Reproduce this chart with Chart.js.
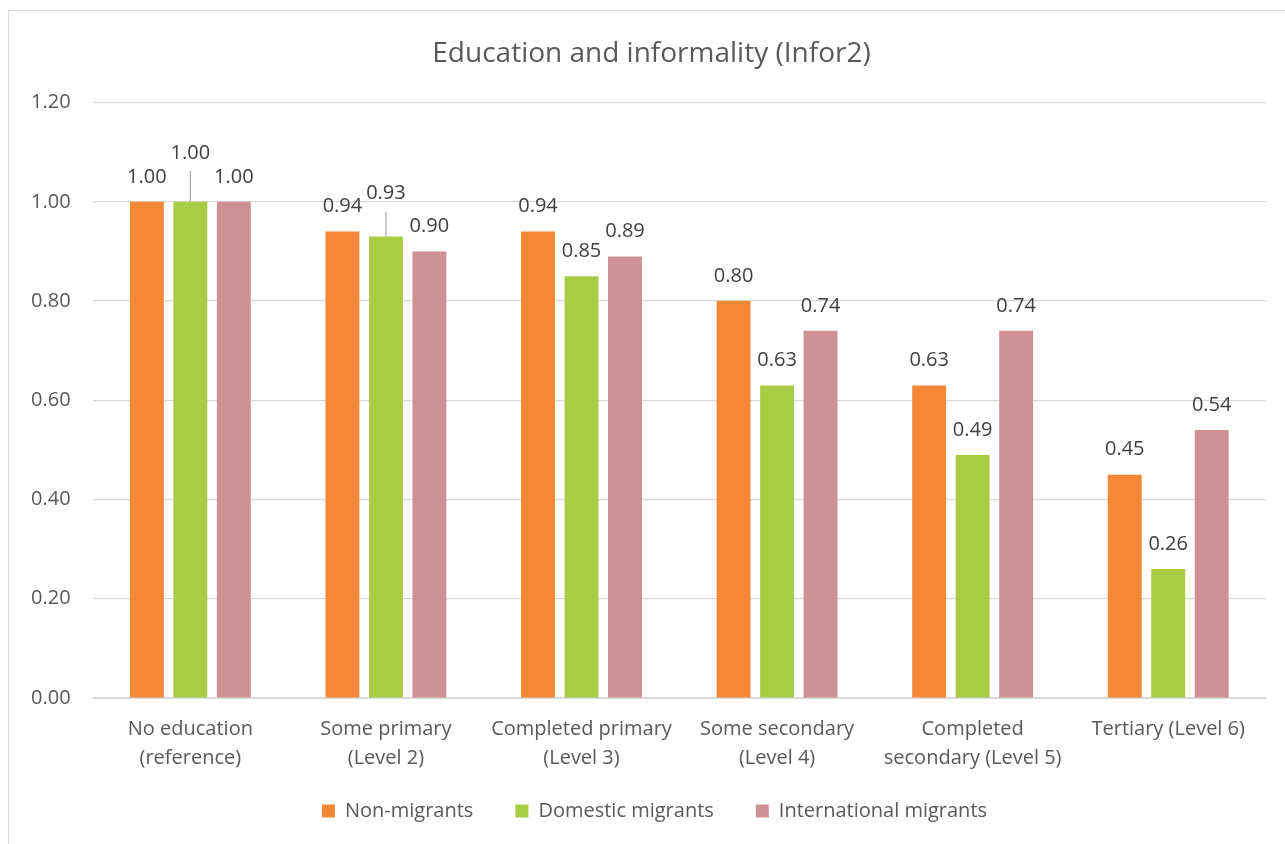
<!DOCTYPE html>
<html>
<head>
<meta charset="utf-8">
<script src="https://cdn.jsdelivr.net/npm/chart.js@4.4.1/dist/chart.umd.min.js"></script>
<style>
  html, body { margin: 0; padding: 0; background: #fff; overflow: hidden; }
  #wrap {
    position: absolute; left: 8px; top: 10px;
    width: 1290px; height: 845px;
    border: 1px solid #d9d9d9; box-sizing: border-box;
  }
  #box { position: absolute; left: 0; top: 0; width: 1277px; height: 834px; }
</style>
</head>
<body>
<div id="wrap"><div id="box"><canvas id="chart"></canvas></div></div>
<script>
const categories = [
  ["No education", "(reference)"],
  ["Some primary", "(Level 2)"],
  ["Completed primary", "(Level 3)"],
  ["Some secondary", "(Level 4)"],
  ["Completed", "secondary (Level 5)"],
  "Tertiary (Level 6)"
];
const nonMigrants = [1.00, 0.94, 0.94, 0.80, 0.63, 0.45];
const domesticMigrants = [1.00, 0.93, 0.85, 0.63, 0.49, 0.26];
const internationalMigrants = [1.00, 0.90, 0.89, 0.74, 0.74, 0.54];
const yTicks = [0, 0.2, 0.4, 0.6, 0.8, 1.0, 1.2];

const FONT = "'Open Sans', 'Liberation Sans', sans-serif";

// value labels above bars; some are pushed up with a leader line
const barLabels = {
  id: "barLabels",
  afterDatasetsDraw(chart, args, opts) {
    const ctx = chart.ctx;
    ctx.save();
    ctx.font = "20px " + FONT;
    ctx.fillStyle = "#404040";
    ctx.textAlign = "center";
    ctx.textBaseline = "middle";
    chart.data.datasets.forEach((ds, di) => {
      const meta = chart.getDatasetMeta(di);
      const lifts = (opts.lift && opts.lift[di]) || [];
      meta.data.forEach((bar, i) => {
        const lift = lifts[i] || 0;
        const y = bar.y - 25 - lift;
        if (lift) {
          ctx.strokeStyle = "#a6a6a6";
          ctx.lineWidth = 1.2;
          ctx.beginPath();
          ctx.moveTo(bar.x, bar.y);
          ctx.lineTo(bar.x, y + 18);
          ctx.stroke();
        }
        ctx.fillText(ds.data[i].toFixed(2), bar.x, y);
      });
    });
    ctx.restore();
  }
};

// legend padding sets the gap between items; give back the extra
// height it adds so the plot area isn't squeezed, then nudge the
// legend row and the title sideways
const boxNudge = {
  id: "boxNudge",
  beforeLayout(chart, args, opts) {
    const lg = chart.legend;
    if (!lg || lg._gapWrapped) return;
    const fit = lg.fit.bind(lg);
    lg.fit = function () { fit(); this.height -= opts.shrink; };
    lg._gapWrapped = true;
  },
  afterLayout(chart, args, opts) {
    const lg = chart.legend;
    lg.top -= opts.raise;
    lg.left += opts.legendX;
    lg.right += opts.legendX;
    const tb = chart.titleBlock;
    if (tb) {
      tb.left += opts.titleX;
      tb.right += opts.titleX;
    }
  }
};

new Chart(document.getElementById("chart"), {
  type: "bar",
  data: {
    labels: categories,
    datasets: [
      { label: "Non-migrants", data: nonMigrants, backgroundColor: "#f58837" },
      { label: "Domestic migrants", data: domesticMigrants, backgroundColor: "#a8cd45" },
      { label: "International migrants", data: internationalMigrants, backgroundColor: "#cd9195" }
    ]
  },
  plugins: [barLabels, boxNudge],
  options: {
    responsive: true,
    maintainAspectRatio: false,
    animation: false,
    datasets: { bar: { categoryPercentage: 0.667, barPercentage: 0.78 } },
    layout: { padding: { left: 0, right: 20, top: 10, bottom: 14 } },
    plugins: {
      title: {
        display: true,
        text: "Education and informality (Infor2)",
        color: "#595959",
        font: { family: FONT, size: 28, weight: "normal" },
        padding: { top: 16, bottom: 32 }
      },
      legend: {
        position: "bottom",
        labels: {
          color: "#595959",
          font: { family: FONT, size: 20 },
          boxWidth: 13, boxHeight: 13,
          padding: 42
        }
      },
      boxNudge: { shrink: 23, raise: 23, legendX: 17, titleX: 14 },
      tooltip: { enabled: false },
      barLabels: { lift: [[], [24, 18], []] }
    },
    scales: {
      x: {
        grid: { display: false },
        border: { color: "#d9d9d9" },
        ticks: {
          color: "#595959",
          font: { family: FONT, size: 20, lineHeight: 1.45 },
          maxRotation: 0,
          autoSkip: false,
          padding: 9
        }
      },
      y: {
        min: 0, max: 1.2,
        afterBuildTicks(axis) { axis.ticks = yTicks.map(v => ({ value: v })); },
        grid: { color: "#d9d9d9", lineWidth: 1.2, drawTicks: false },
        border: { display: false },
        ticks: {
          color: "#595959",
          font: { family: FONT, size: 20 },
          padding: 22,
          callback: v => v.toFixed(2)
        }
      }
    }
  }
});
</script>
</body>
</html>
